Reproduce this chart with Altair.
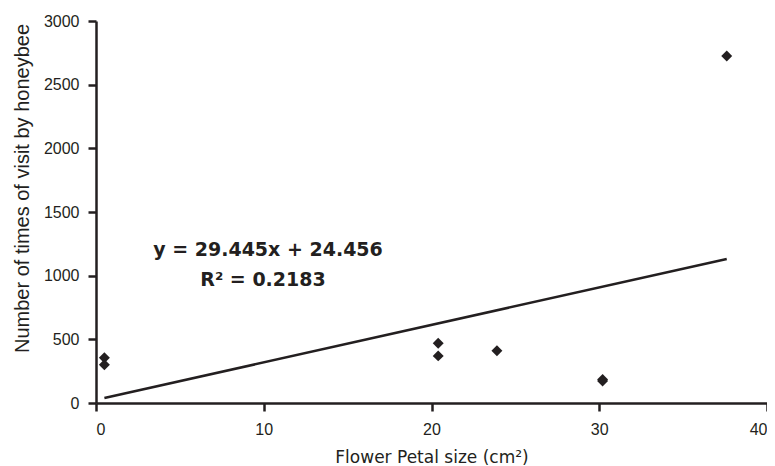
import altair as alt
import pandas as pd

petal_size = [0.5, 0.5, 20.4, 20.4, 23.9, 30.2, 30.2, 37.6]
visits = [355, 300, 470, 370, 410, 185, 172, 2725]
slope = 29.445
intercept = 24.456
fit_x = [0.5, 37.6]
eq_lines = ["y = 29.445x + 24.456", "R² = 0.2183"]
x_ticks = [0, 10, 20, 30, 40]
y_ticks = [0, 500, 1000, 1500, 2000, 2500, 3000]

INK = "#231f20"
FONT = "Liberation Sans"
BOLD_FONT = "DejaVu Sans"

df = pd.DataFrame({"x": petal_size, "y": visits})
fit = pd.DataFrame({"x": fit_x, "y": [slope * v + intercept for v in fit_x]})

xscale = alt.Scale(domain=[0, 40], nice=False, zero=True)
yscale = alt.Scale(domain=[0, 3000], nice=False)
xaxis = alt.Axis(title="Flower Petal size (cm²)", values=x_ticks, format="d",
                 labelPadding=10, titleFont="DejaVu Sans", titleFontSize=17, titlePadding=12)
yaxis = alt.Axis(title="Number of times of visit by honeybee", values=y_ticks, format="d",
                 labelPadding=9, titlePadding=11, titleFontSize=20, titleY=167)

pts = alt.Chart(df).mark_point(shape="diamond", filled=True, size=120, color=INK, opacity=1).encode(
    x=alt.X("x:Q", scale=xscale, axis=xaxis),
    y=alt.Y("y:Q", scale=yscale, axis=yaxis),
)

line = alt.Chart(fit).mark_line(color=INK, strokeWidth=2.5).encode(
    x=alt.X("x:Q", scale=xscale, axis=xaxis),
    y=alt.Y("y:Q", scale=yscale, axis=yaxis),
)

eq1 = alt.Chart(pd.DataFrame({"t": [eq_lines[0]]})).mark_text(
    font=BOLD_FONT, fontSize=19, fontWeight="bold", color=INK, align="center", baseline="middle"
).encode(text="t:N", x=alt.value(172), y=alt.value(229))

eq2 = alt.Chart(pd.DataFrame({"t": [eq_lines[1]]})).mark_text(
    font=BOLD_FONT, fontSize=19, fontWeight="bold", color=INK, align="center", baseline="middle"
).encode(text="t:N", x=alt.value(167), y=alt.value(259))

chart = alt.layer(pts, line, eq1, eq2).properties(
    width=671, height=382, background="white",
    padding={"left": 88, "top": 13, "right": 0, "bottom": 62},
    autosize=alt.AutoSizeParams(type="none"),
).configure_view(stroke=None).configure_axis(
    grid=False, domainColor=INK, domainWidth=2.5, tickColor=INK, tickWidth=2.5, tickSize=8,
    labelFont=FONT, labelFontSize=16, labelColor=INK,
    titleFont=FONT, titleFontWeight="normal", titleColor=INK,
)

chart.save("out.html", embed_options={"renderer": "svg", "actions": False})
